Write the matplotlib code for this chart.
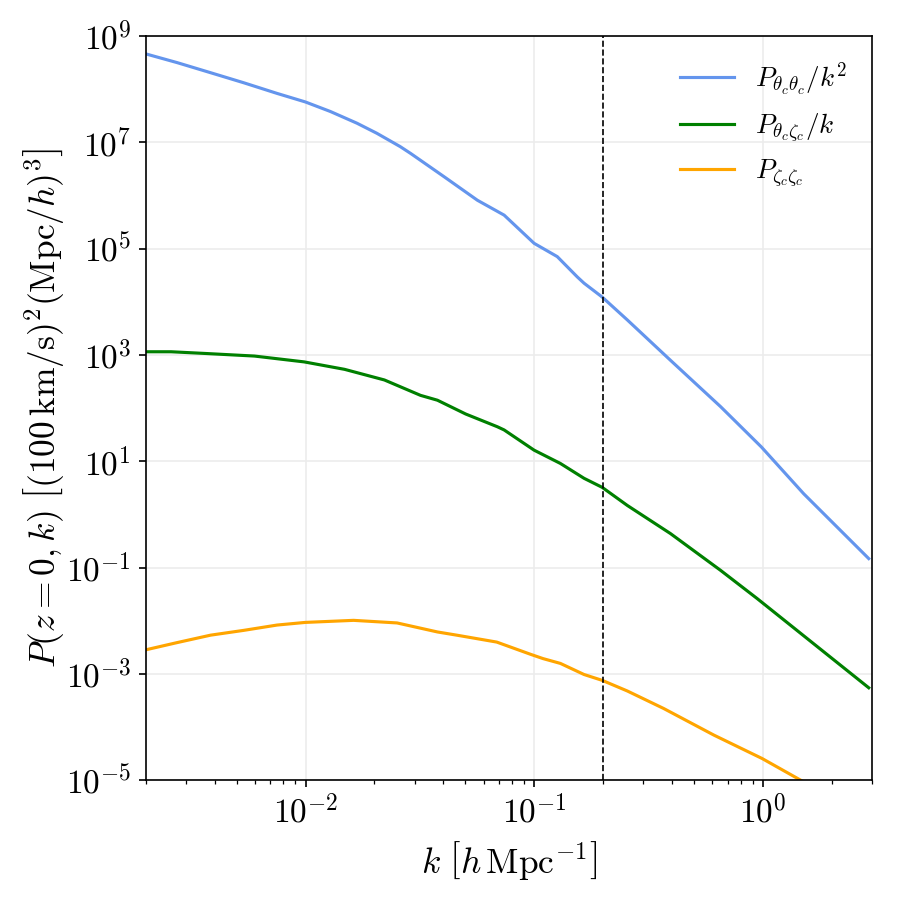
import matplotlib
matplotlib.use("Agg")
import matplotlib.pyplot as plt
import matplotlib.ticker as mticker
import numpy as np

plt.rcParams['mathtext.fontset'] = 'cm'
plt.rcParams['font.family'] = ['DejaVu Serif']

# --- data ---
k_tt = [0.00196, 0.00274, 0.00384, 0.00536, 0.0075, 0.00997, 0.01283, 0.01676,
        0.02048, 0.0259, 0.0288, 0.0404, 0.0564, 0.0738, 0.0998, 0.126, 0.154,
        0.165, 0.198, 0.255, 0.394, 0.652, 0.984, 1.507, 2.90]
P_tt = [4.72e8, 3.16e8, 2.04e8, 1.32e8, 8.32e7, 5.75e7, 3.80e7, 2.29e7,
        1.48e7, 8.32e6, 6.17e6, 2.24e6, 8.13e5, 4.27e5, 1.26e5, 7.08e4,
        2.95e4, 2.24e4, 1.23e4, 4.57e3, 794, 107, 18.6, 2.45, 0.148]

k_tz = [0.00196, 0.00258, 0.00361, 0.00597, 0.00986, 0.0148, 0.0221, 0.0318,
        0.0377, 0.0501, 0.0689, 0.0738, 0.0998, 0.130, 0.165, 0.198, 0.255,
        0.394, 0.652, 0.942, 2.90]
P_tz = [1150, 1150, 1070, 955, 741, 537, 339, 174, 141, 77.6, 44.7, 38.9,
        16.2, 9.12, 4.79, 3.24, 1.48, 0.437, 0.0891, 0.0263, 5.5e-4]

k_zz = [0.00196, 0.00274, 0.00384, 0.00536, 0.0075, 0.00997, 0.0162, 0.0251,
        0.0377, 0.0458, 0.0685, 0.0964, 0.109, 0.130, 0.165, 0.198, 0.255,
        0.368, 0.610, 0.991, 1.507, 2.90]
P_zz = [2.79e-3, 3.89e-3, 5.37e-3, 6.61e-3, 8.32e-3, 9.33e-3, 1.02e-2,
        9.12e-3, 6.17e-3, 5.37e-3, 3.98e-3, 2.34e-3, 1.95e-3, 1.58e-3,
        9.77e-4, 7.59e-4, 4.79e-4, 2.24e-4, 7.08e-5, 2.57e-5, 9.33e-6, 1.6e-6]

labels = [r'$P_{\theta_c\theta_c}/k^2$', r'$P_{\theta_c\zeta_c}/k$',
          r'$P_{\zeta_c\zeta_c}$']
colors = ['cornflowerblue', 'green', 'orange']
k_cut = 0.2
x_major = [1e-2, 1e-1, 1e0]
y_major = [1e-5, 1e-3, 1e-1, 1e1, 1e3, 1e5, 1e7, 1e9]

fig = plt.figure(figsize=(6, 6), dpi=150)
ax = fig.add_axes([0.162, 0.133, 0.807, 0.827])

ax.loglog(k_tt, P_tt, color=colors[0], lw=1.5, label=labels[0])
ax.loglog(k_tz, P_tz, color=colors[1], lw=1.5, label=labels[1])
ax.loglog(k_zz, P_zz, color=colors[2], lw=1.5, label=labels[2])
ax.axvline(k_cut, color='black', ls='--', lw=0.8)

ax.set_xlim(0.002, 3)
ax.set_ylim(1e-5, 1e9)
ax.xaxis.set_major_locator(mticker.FixedLocator(x_major))
ax.yaxis.set_major_locator(mticker.FixedLocator(y_major))
ax.yaxis.set_minor_locator(mticker.NullLocator())
ax.grid(True, which='major', color='#ececec', lw=0.8)
ax.set_axisbelow(True)

fmt = mticker.FuncFormatter(lambda v, p: r'$10^{%d}$' % int(round(np.log10(v))))
ax.xaxis.set_major_formatter(fmt)
ax.yaxis.set_major_formatter(fmt)
ax.xaxis.set_minor_formatter(mticker.NullFormatter())

ax.set_xlabel(r'$k\ \left[h\,\mathrm{Mpc}^{-1}\right]$', fontsize=17, labelpad=4)
ax.set_ylabel(r'$P(z=0,k)\ \left[(100\,\mathrm{km/s})^2(\mathrm{Mpc}/h)^3\right]$',
              fontsize=17, labelpad=0)
ax.tick_params(labelsize=16)
ax.legend(loc='upper right', frameon=False, fontsize=13)

fig.savefig('out.png', dpi=150)
